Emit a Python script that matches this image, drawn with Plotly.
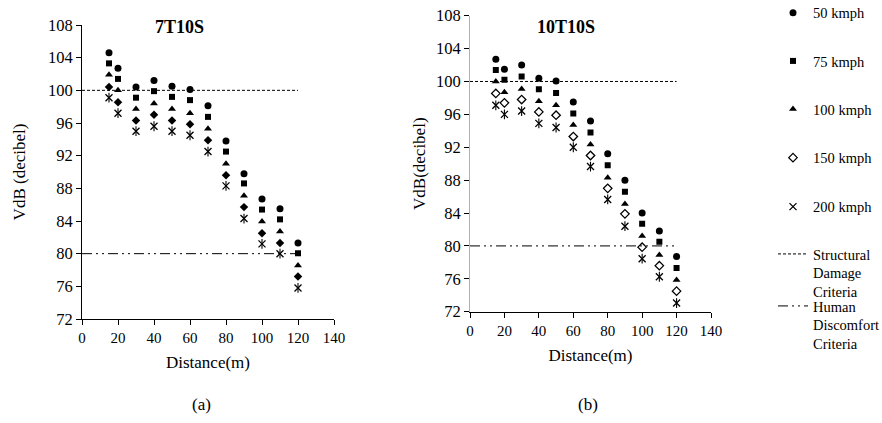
import plotly.graph_objects as go

distance = [15, 20, 30, 40, 50, 60, 70, 80, 90, 100, 110, 120]
speeds = ["50 kmph", "75 kmph", "100 kmph", "150 kmph", "200 kmph"]

# 7T10S (a)
a_50 = [104.6, 102.7, 100.4, 101.2, 100.5, 100.1, 98.1, 93.8, 89.8, 86.7, 85.5, 81.3]
a_75 = [103.3, 101.4, 99.1, 99.9, 99.2, 98.8, 96.75, 92.5, 88.6, 85.4, 84.2, 80.05]
a_100 = [101.9, 100.0, 97.7, 98.4, 97.7, 97.2, 95.3, 91.0, 87.1, 83.95, 82.7, 78.55]
a_150 = [100.4, 98.55, 96.3, 97.0, 96.3, 95.85, 93.9, 89.6, 85.7, 82.5, 81.3, 77.2]
a_200 = [99.1, 97.2, 95.0, 95.6, 95.0, 94.5, 92.5, 88.3, 84.3, 81.2, 80.0, 75.8]

# 10T10S (b)
b_50 = [102.7, 101.5, 102.0, 100.4, 100.05, 97.5, 95.2, 91.2, 88.0, 84.0, 81.8, 78.7]
b_75 = [101.4, 100.2, 100.6, 99.05, 98.6, 96.1, 93.8, 89.8, 86.6, 82.7, 80.5, 77.3]
b_100 = [100.0, 98.7, 99.1, 97.6, 97.1, 94.7, 92.35, 88.3, 85.1, 81.2, 78.9, 75.85]
b_150 = [98.55, 97.4, 97.8, 96.3, 95.9, 93.3, 91.0, 87.0, 83.9, 79.85, 77.6, 74.5]
b_200 = [97.1, 96.0, 96.4, 94.9, 94.4, 92.0, 89.65, 85.65, 82.4, 78.45, 76.25, 73.05]

crit_x = [0, 120]
structural = [100, 100]
human = [80, 80]
crit_names = ["Structural<br>Damage<br>Criteria", "Human<br>Discomfort<br>Criteria"]

x_ticks = [0, 20, 40, 60, 80, 100, 120, 140]
y_ticks = [72, 76, 80, 84, 88, 92, 96, 100, 104, 108]

FONT = "Liberation Serif, Times New Roman, Times, serif"

fig = go.Figure()

a_series = [a_50, a_75, a_100, a_150, a_200]
b_series = [b_50, b_75, b_100, b_150, b_200]
sym_a = ["circle", "square", "triangle-up", "diamond", "x-thin-open"]
sym_b = ["circle", "square", "triangle-up", "diamond-open", "x-thin-open"]
sizes = [7, 6, 7, 6.5, 7]
speed_legends = ["legend", "legend2", "legend3", "legend4", "legend5"]

for i, name in enumerate(speeds):
    for ser, syms, xa, ya, show in [(a_series, sym_a, "x", "y", False), (b_series, sym_b, "x2", "y2", True)]:
        fig.add_trace(go.Scatter(
            x=distance, y=ser[i], mode="markers", name=name,
            xaxis=xa, yaxis=ya, showlegend=show, legendgroup=name, legend=speed_legends[i],
            marker=dict(symbol=syms[i], size=sizes[i], color="black",
                        line=dict(color="black", width=1.3 if "open" in syms[i] else 0)),
        ))
        if i == 4:
            fig.add_trace(go.Scatter(
                x=distance, y=ser[i], mode="markers", name=name,
                xaxis=xa, yaxis=ya, showlegend=False, legendgroup=name,
                marker=dict(symbol="line-ns-open", size=7, color="black",
                            line=dict(color="black", width=1.1)),
            ))

for xa, ya, show in [("x", "y", False), ("x2", "y2", True)]:
    fig.add_trace(go.Scatter(x=crit_x, y=structural, mode="lines", name=crit_names[0],
                             xaxis=xa, yaxis=ya, showlegend=show, legend="legend6",
                             line=dict(color="black", width=1, dash="3px,2px")))
    fig.add_trace(go.Scatter(x=crit_x, y=human, mode="lines", name=crit_names[1],
                             xaxis=xa, yaxis=ya, showlegend=show, legend="legend7",
                             line=dict(color="black", width=1, dash="10px,4px,2px,4px,2px,4px")))

W, H = 882, 423
def dom_x(a, b):
    return [a / W, b / W]
def dom_y(top, bot):
    return [(H - bot) / H, (H - top) / H]
def py(v):
    return 1 - v / H

axis_common = dict(range=[0, 140], tickvals=x_ticks, ticks="outside", ticklen=5,
                   tickcolor="black", showline=True, linecolor="black", linewidth=1,
                   showgrid=False, zeroline=False, tickfont=dict(family=FONT, size=15, color="black"))
yaxis_common = dict(range=[72, 108], tickvals=y_ticks, ticks="outside", ticklen=5,
                    tickcolor="black", showline=True, linewidth=1,
                    showgrid=False, zeroline=False, tickfont=dict(family=FONT, size=16.5, color="black"))

leg_common = dict(x=773 / W, xanchor="left", yanchor="middle", bgcolor="rgba(0,0,0,0)",
                  font=dict(family=FONT, size=14.5, color="black"), valign="top", itemwidth=30)

legend_centers = [12.7, 61, 109, 157.7, 206.7, 273, 325]
legend_layout = {}
for k, c in enumerate(legend_centers):
    key = "legend" if k == 0 else f"legend{k + 1}"
    legend_layout[key] = dict(y=py(c), **leg_common)

fig.update_layout(
    width=W, height=H, margin=dict(l=0, r=0, t=0, b=0, autoexpand=False),
    plot_bgcolor="white", paper_bgcolor="white",
    font=dict(family=FONT, size=15, color="black"),
    xaxis=dict(domain=dom_x(82, 334), anchor="y",
               title=dict(text="Distance(m)", font=dict(family=FONT, size=17), standoff=11),
               **axis_common),
    yaxis=dict(domain=dom_y(25, 319), anchor="x", linecolor="black",
               title=dict(text="VdB (decibel)", font=dict(family=FONT, size=17), standoff=18),
               **yaxis_common),
    xaxis2=dict(domain=dom_x(470, 711), anchor="y2",
                title=dict(text="Distance(m)", font=dict(family=FONT, size=17), standoff=11),
                **axis_common),
    yaxis2=dict(domain=dom_y(15.7, 311.7), anchor="x2", linecolor="#b0b0b0",
                title=dict(text="VdB(decibel)", font=dict(family=FONT, size=17), standoff=5),
                **yaxis_common),
    showlegend=True,
    annotations=[
        dict(text="<b>7T10S</b>", x=153 / W, y=py(27), xref="paper", yref="paper",
             yanchor="middle", showarrow=False, font=dict(family=FONT, size=18)),
        dict(text="<b>10T10S</b>", x=597 / W, y=py(27), xref="paper", yref="paper",
             yanchor="middle", showarrow=False, font=dict(family=FONT, size=18)),
        dict(text="(a)", x=190 / W, y=py(404), xref="paper", yref="paper",
             yanchor="middle", showarrow=False, font=dict(family=FONT, size=17)),
        dict(text="(b)", x=588 / W, y=py(404), xref="paper", yref="paper",
             yanchor="middle", showarrow=False, font=dict(family=FONT, size=17)),
    ],
    **legend_layout,
)

fig.write_html("out.html", config={"displayModeBar": False},
               post_script="document.body.style.margin='0px';")
